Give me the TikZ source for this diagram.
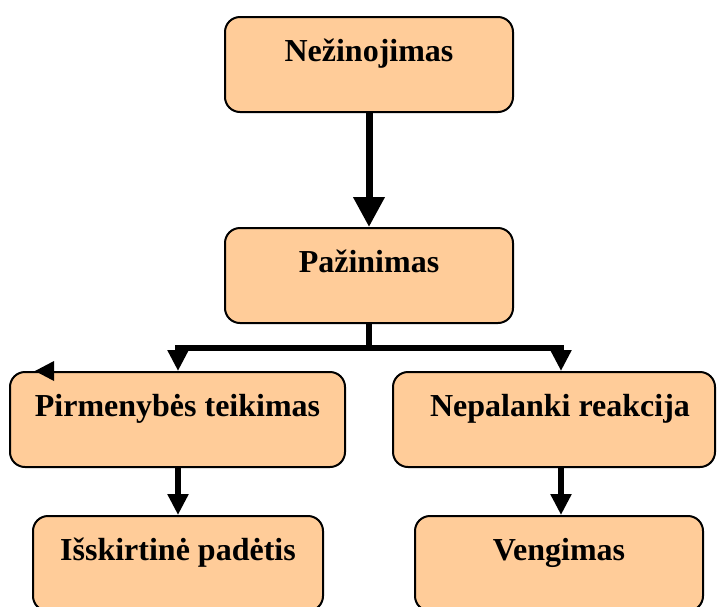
\documentclass[tikz,border=0pt]{standalone}
\usepackage{fontspec}
\setmainfont{Liberation Serif}
\usetikzlibrary{arrows.meta}

\tikzset{
  box/.style={draw=black, line width=2pt, fill=boxfill, rounded corners=15pt,
    inner sep=0pt, text height=44pt, text depth=51pt,
    font=\fontsize{32}{38}\selectfont\bfseries},
  mainlink/.style={line width=7pt, -{Triangle[length=30pt,width=30pt]}},
  branch/.style={line width=6pt},
  sublink/.style={line width=6pt, -{Triangle[length=21pt,width=20pt]}},
}
\definecolor{boxfill}{RGB}{255,204,153}

\begin{document}
\begin{tikzpicture}[x=1pt, y=-1pt]
  \clip (0,0) rectangle (717,606);
  \fill[white] (0,0) rectangle (717,606);

  % boxes
  \node[box, minimum width=288pt] (nez) at (369,16) [anchor=north] {Nežinojimas};
  \node[box, minimum width=288pt] (paz) at (369,227) [anchor=north] {Pažinimas};
  \node[box, minimum width=335pt] (pir) at (177.5,371) [anchor=north] {Pirmenybės teikimas};
  \node[box, minimum width=322pt] (nep) at (554,371) [anchor=north] {\hspace*{12pt}Nepalanki reakcija};
  \node[box, minimum width=290pt] (isk) at (178,515) [anchor=north] {Išskirtinė padėtis};
  \node[box, minimum width=288pt] (ven) at (559,515) [anchor=north] {Vengimas};

  % connectors
  \draw[mainlink] (nez.south) -- (paz.north);
  \coordinate (split) at (369,348);
  \draw[branch] (paz.south) -- (split);
  \draw[branch] (175,348) -- (564,348);
  \coordinate (lt) at (178,348);
  \coordinate (rt) at (561,348);
  \draw[sublink] (lt) -- (lt |- pir.north);
  \draw[sublink] (rt) -- (rt |- nep.north);
  \draw[sublink] (lt |- pir.south) -- (lt |- isk.north);
  \draw[sublink] (rt |- nep.south) -- (rt |- ven.north);

  % small left-pointing marker on the top edge
  \fill (35,371) -- (54,361) -- (54,381) -- cycle;
\end{tikzpicture}
\end{document}
